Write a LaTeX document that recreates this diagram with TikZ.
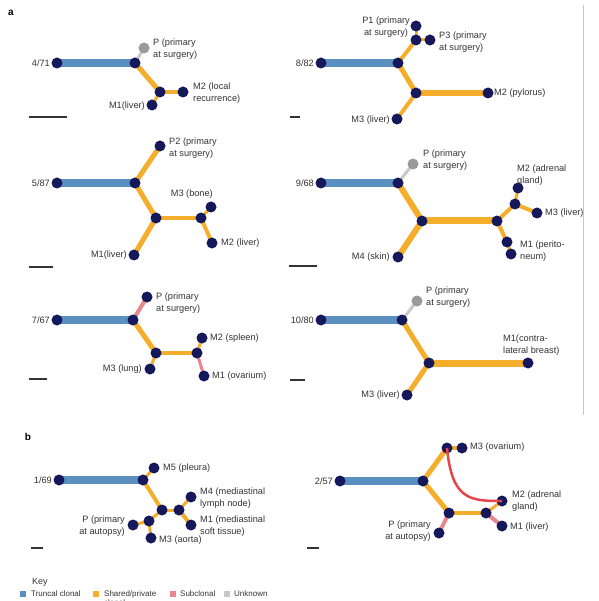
\documentclass[tikz,border=0pt]{standalone}
\usepackage{fontspec}
\setmainfont{Liberation Sans}
\usetikzlibrary{backgrounds}
\definecolor{navy}{HTML}{15185A}
\definecolor{trunc}{HTML}{5A8FC0}
\definecolor{shared}{HTML}{F5AE2C}
\definecolor{subcl}{HTML}{E8868C}
\definecolor{unk}{HTML}{C8C8C8}
\definecolor{pnode}{HTML}{9A9A9A}
\definecolor{txt}{HTML}{333333}
\definecolor{redc}{HTML}{E5454B}
\begin{document}
\begin{tikzpicture}[x=1pt,y=-1pt,
  dot/.style={circle,fill=navy,minimum size=11pt,inner sep=0pt},
  gdot/.style={circle,fill=pnode,minimum size=11pt,inner sep=0pt},
  tr/.style={trunc,line width=8.5pt},
  sh/.style={shared,line width=#1},
  sb/.style={subcl,line width=#1},
  uk/.style={unk,line width=3pt},
  lbl/.style={font=\fontsize{9.2}{12}\selectfont,text=txt,inner sep=0pt},
  lblL/.style={lbl,anchor=west,align=left},
  lblR/.style={lbl,anchor=east,align=right},
  sbar/.style={draw=txt,line width=1.2pt},
  keybox/.style={minimum size=6pt,inner sep=0pt},
  keytxt/.style={font=\fontsize{8}{9.5}\selectfont,text=txt,anchor=west,inner sep=0pt,align=left},
  plabel/.style={font=\fontsize{10}{12}\selectfont\bfseries,inner sep=0pt}]
\useasboundingbox (0,0) rectangle (598,601);

\node[plabel] (la) at (11,13) {a};
\node[plabel] (lb) at (28,437) {b};
\draw[unk,line width=0.8pt] (583,5) -- (583,415);

% ---------- 4/71 ----------
\node[dot] (a1r) at (57,63) {};
\node[dot] (a1j) at (135,63) {};
\node[gdot] (a1p) at (144,48) {};
\node[dot] (a1k) at (160,92) {};
\node[dot] (a1m2) at (183,92) {};
\node[dot] (a1m1) at (152,105) {};
\begin{scope}[on background layer]
\draw[tr] (a1r.center) -- (a1j.center);
\draw[uk] (a1j.center) -- (a1p.center);
\draw[sh=5pt] (a1j.center) -- (a1k.center);
\draw[sh=4pt] (a1k.center) -- (a1m2.center);
\draw[sh=3pt] (a1k.center) -- (a1m1.center);
\end{scope}
\node[lblR] (t1a) at (50,63) {4/71};
\node[lblL] (t1b) at (153,49) {P (primary\\at surgery)};
\node[lblL] (t1c) at (193,93) {M2 (local\\recurrence)};
\node[lblR] (t1d) at (145,106) {M1(liver)};
\coordinate (s1a) at (29,117); \coordinate (s1b) at (67,117);
\draw[sbar] (s1a) -- (s1b);

% ---------- 8/82 ----------
\node[dot] (a2r) at (321,63) {};
\node[dot] (a2j) at (398,63) {};
\node[dot] (a2u) at (416,40) {};
\node[dot] (a2p1) at (416,26) {};
\node[dot] (a2p3) at (430,40) {};
\node[dot] (a2k) at (416,93) {};
\node[dot] (a2m2) at (488,93) {};
\node[dot] (a2m3) at (397,119) {};
\begin{scope}[on background layer]
\draw[tr] (a2r.center) -- (a2j.center);
\draw[sh=4pt] (a2j.center) -- (a2u.center);
\draw[sh=3pt] (a2u.center) -- (a2p1.center);
\draw[sh=3pt] (a2u.center) -- (a2p3.center);
\draw[sh=5pt] (a2j.center) -- (a2k.center);
\draw[sh=5.5pt] (a2k.center) -- (a2m2.center);
\draw[sh=4pt] (a2k.center) -- (a2m3.center);
\end{scope}
\node[lblR] (t2a) at (314,63) {8/82};
\node[lbl,anchor=east,align=center] (t2b) at (410,27) {P1 (primary\\at surgery)};
\node[lblL] (t2c) at (439,42) {P3 (primary\\at surgery)};
\node[lblL] (t2d) at (494,93) {M2 (pylorus)};
\node[lblR] (t2e) at (390,120) {M3 (liver)};
\coordinate (s2a) at (290,117); \coordinate (s2b) at (300,117);
\draw[sbar] (s2a) -- (s2b);

% ---------- 5/87 ----------
\node[dot] (a3r) at (57,183) {};
\node[dot] (a3j) at (135,183) {};
\node[dot] (a3p2) at (160,146) {};
\node[dot] (a3k) at (156,218) {};
\node[dot] (a3m1) at (134,255) {};
\node[dot] (a3l) at (201,218) {};
\node[dot] (a3m3) at (211,207) {};
\node[dot] (a3m2) at (212,243) {};
\begin{scope}[on background layer]
\draw[tr] (a3r.center) -- (a3j.center);
\draw[sh=5pt] (a3j.center) -- (a3p2.center);
\draw[sh=5pt] (a3j.center) -- (a3k.center);
\draw[sh=5pt] (a3k.center) -- (a3m1.center);
\draw[sh=4.5pt] (a3k.center) -- (a3l.center);
\draw[sh=3pt] (a3l.center) -- (a3m3.center);
\draw[sh=4pt] (a3l.center) -- (a3m2.center);
\end{scope}
\node[lblR] (t3a) at (50,183) {5/87};
\node[lblL] (t3b) at (169,148) {P2 (primary\\at surgery)};
\node[lblR] (t3c) at (213,194) {M3 (bone)};
\node[lblL] (t3d) at (221,243) {M2 (liver)};
\node[lblR] (t3e) at (127,255) {M1(liver)};
\coordinate (s3a) at (29,267); \coordinate (s3b) at (53,267);
\draw[sbar] (s3a) -- (s3b);

% ---------- 9/68 ----------
\node[dot] (a4r) at (321,183) {};
\node[dot] (a4j) at (398,183) {};
\node[gdot] (a4p) at (413,164) {};
\node[dot] (a4k) at (422,221) {};
\node[dot] (a4m4) at (398,257) {};
\node[dot] (a4l) at (497,221) {};
\node[dot] (a4u) at (515,204) {};
\node[dot] (a4m2) at (518,188) {};
\node[dot] (a4m3) at (537,213) {};
\node[dot] (a4d) at (507,242) {};
\node[dot] (a4m1) at (511,254) {};
\begin{scope}[on background layer]
\draw[tr] (a4r.center) -- (a4j.center);
\draw[uk] (a4j.center) -- (a4p.center);
\draw[sh=6pt] (a4j.center) -- (a4k.center);
\draw[sh=6pt] (a4k.center) -- (a4m4.center);
\draw[sh=7pt] (a4k.center) -- (a4l.center);
\draw[sh=4pt] (a4l.center) -- (a4u.center);
\draw[sh=3pt] (a4u.center) -- (a4m2.center);
\draw[sh=4pt] (a4u.center) -- (a4m3.center);
\draw[sh=4pt] (a4l.center) -- (a4d.center);
\draw[sh=3pt] (a4d.center) -- (a4m1.center);
\end{scope}
\node[lblR] (t4a) at (314,183) {9/68};
\node[lblL] (t4b) at (423,160) {P (primary\\at surgery)};
\node[lblL] (t4c) at (517,175) {M2 (adrenal\\gland)};
\node[lblL] (t4d) at (545,213) {M3 (liver)};
\node[lblL] (t4e) at (520,251) {M1 (perito-\\neum)};
\node[lblR] (t4f) at (390,257) {M4 (skin)};
\coordinate (s4a) at (289,266); \coordinate (s4b) at (317,266);
\draw[sbar] (s4a) -- (s4b);

% ---------- 7/67 ----------
\node[dot] (a5r) at (57,320) {};
\node[dot] (a5j) at (133,320) {};
\node[dot] (a5p) at (147,297) {};
\node[dot] (a5k) at (156,353) {};
\node[dot] (a5m3) at (150,369) {};
\node[dot] (a5l) at (197,353) {};
\node[dot] (a5m2) at (202,338) {};
\node[dot] (a5m1) at (204,376) {};
\begin{scope}[on background layer]
\draw[tr] (a5r.center) -- (a5j.center);
\draw[sb=4pt] (a5j.center) -- (a5p.center);
\draw[sh=5pt] (a5j.center) -- (a5k.center);
\draw[sh=3pt] (a5k.center) -- (a5m3.center);
\draw[sh=4pt] (a5k.center) -- (a5l.center);
\draw[sh=3pt] (a5l.center) -- (a5m2.center);
\draw[sb=3pt] (a5l.center) -- (a5m1.center);
\end{scope}
\node[lblR] (t5a) at (50,320) {7/67};
\node[lblL] (t5b) at (156,303) {P (primary\\at surgery)};
\node[lblL] (t5c) at (210,338) {M2 (spleen)};
\node[lblL] (t5d) at (212,376) {M1 (ovarium)};
\node[lblR] (t5e) at (142,369) {M3 (lung)};
\coordinate (s5a) at (29,379); \coordinate (s5b) at (47,379);
\draw[sbar] (s5a) -- (s5b);

% ---------- 10/80 ----------
\node[dot] (a6r) at (321,320) {};
\node[dot] (a6j) at (402,320) {};
\node[gdot] (a6p) at (417,301) {};
\node[dot] (a6k) at (429,363) {};
\node[dot] (a6m1) at (528,363) {};
\node[dot] (a6m3) at (407,395) {};
\begin{scope}[on background layer]
\draw[tr] (a6r.center) -- (a6j.center);
\draw[uk] (a6j.center) -- (a6p.center);
\draw[sh=5pt] (a6j.center) -- (a6k.center);
\draw[sh=7pt] (a6k.center) -- (a6m1.center);
\draw[sh=5pt] (a6k.center) -- (a6m3.center);
\end{scope}
\node[lblR] (t6a) at (314,320) {10/80};
\node[lblL] (t6b) at (426,297) {P (primary\\at surgery)};
\node[lblL] (t6c) at (503,345) {M1(contra-\\lateral breast)};
\node[lblR] (t6d) at (400,395) {M3 (liver)};
\coordinate (s6a) at (290,380); \coordinate (s6b) at (305,380);
\draw[sbar] (s6a) -- (s6b);

% ---------- 1/69 ----------
\node[dot] (b1r) at (59,480) {};
\node[dot] (b1j) at (143,480) {};
\node[dot] (b1m5) at (154,468) {};
\node[dot] (b1k) at (162,510) {};
\node[dot] (b1l) at (179,510) {};
\node[dot] (b1m4) at (191,497) {};
\node[dot] (b1m1) at (191,525) {};
\node[dot] (b1q) at (149,521) {};
\node[dot] (b1p) at (133,525) {};
\node[dot] (b1m3) at (151,538) {};
\begin{scope}[on background layer]
\draw[tr] (b1r.center) -- (b1j.center);
\draw[sh=3pt] (b1j.center) -- (b1m5.center);
\draw[sh=4pt] (b1j.center) -- (b1k.center);
\draw[sh=3pt] (b1k.center) -- (b1l.center);
\draw[sh=3pt] (b1l.center) -- (b1m4.center);
\draw[sh=4pt] (b1l.center) -- (b1m1.center);
\draw[sh=3pt] (b1k.center) -- (b1q.center);
\draw[sh=3pt] (b1q.center) -- (b1p.center);
\draw[sh=3pt] (b1q.center) -- (b1m3.center);
\end{scope}
\node[lblR] (u1a) at (52,480) {1/69};
\node[lblL] (u1b) at (163,468) {M5 (pleura)};
\node[lblL] (u1c) at (200,498) {M4 (mediastinal\\lymph node)};
\node[lblL] (u1d) at (200,526) {M1 (mediastinal\\soft tissue)};
\node[lblR] (u1e) at (125,526) {P (primary\\at autopsy)};
\node[lblL] (u1f) at (159,540) {M3 (aorta)};
\coordinate (s7a) at (31,548); \coordinate (s7b) at (43,548);
\draw[sbar] (s7a) -- (s7b);

% ---------- 2/57 ----------
\node[dot] (b2r) at (340,481) {};
\node[dot] (b2j) at (423,481) {};
\node[dot] (b2u) at (447,448) {};
\node[dot] (b2m3) at (462,448) {};
\node[dot] (b2k) at (449,513) {};
\node[dot] (b2l) at (486,513) {};
\node[dot] (b2m2) at (502,501) {};
\node[dot] (b2m1) at (502,526) {};
\node[dot] (b2p) at (439,533) {};
\begin{scope}[on background layer]
\draw[tr] (b2r.center) -- (b2j.center);
\draw[sh=5pt] (b2j.center) -- (b2u.center);
\draw[sh=4pt] (b2u.center) -- (b2m3.center);
\draw[sh=5pt] (b2j.center) -- (b2k.center);
\draw[sh=4pt] (b2k.center) -- (b2l.center);
\draw[sh=3pt] (b2l.center) -- (b2m2.center);
\draw[sb=4pt] (b2l.center) -- (b2m1.center);
\draw[sb=4pt] (b2k.center) -- (b2p.center);
\end{scope}
\draw[redc,line width=2.5pt] (b2u.center) .. controls (452,500) and (470,501) .. (b2m2.center);
\node[lblR] (u2a) at (333,481) {2/57};
\node[lblL] (u2b) at (470,447) {M3 (ovarium)};
\node[lblL] (u2c) at (512,501) {M2 (adrenal\\gland)};
\node[lblL] (u2d) at (510,527) {M1 (liver)};
\node[lblR] (u2e) at (431,531) {P (primary\\at autopsy)};
\coordinate (s8a) at (307,548); \coordinate (s8b) at (319,548);
\draw[sbar] (s8a) -- (s8b);

% ---------- Key ----------
\node[font=\fontsize{9}{11}\selectfont,text=txt,anchor=west,inner sep=0pt] (key) at (32,582) {Key};
\node[keybox,fill=trunc] (k1) at (23,594) {};
\node[keytxt] (k1t) at (31,594) {Truncal clonal};
\node[keybox,fill=shared] (k2) at (96,594) {};
\node[keytxt,anchor=north west] (k2t) at (104,590) {Shared/private\\clonal};
\node[keybox,fill=subcl] (k3) at (173,594) {};
\node[keytxt] (k3t) at (180,594) {Subclonal};
\node[keybox,fill=unk] (k4) at (227,594) {};
\node[keytxt] (k4t) at (234,594) {Unknown};
\end{tikzpicture}
\end{document}
